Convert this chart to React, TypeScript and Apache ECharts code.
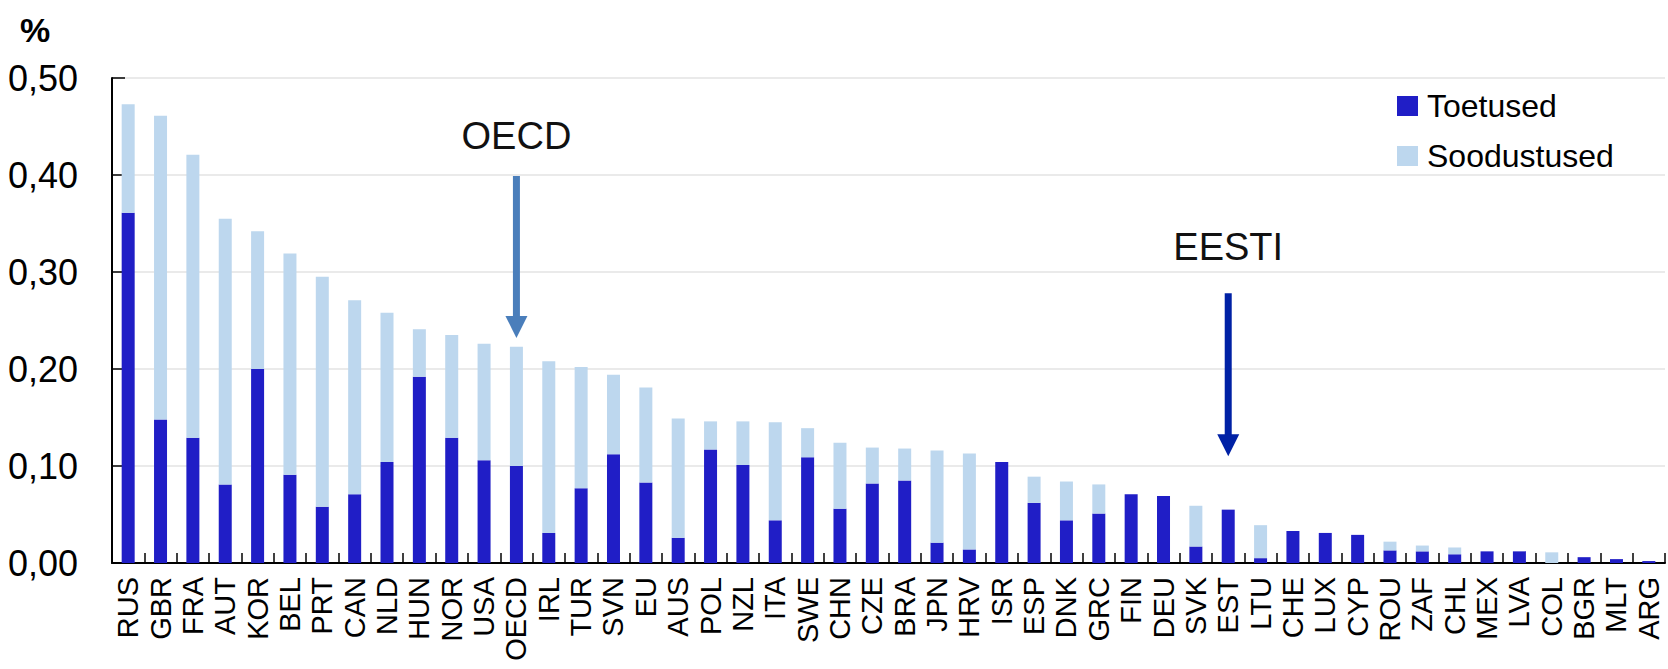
import React, { useEffect, useRef } from "react";
import * as echarts from "echarts";

const categories = [
  "RUS", "GBR", "FRA", "AUT", "KOR", "BEL", "PRT", "CAN", "NLD", "HUN", "NOR", "USA",
  "OECD", "IRL", "TUR", "SVN", "EU", "AUS", "POL", "NZL", "ITA", "SWE", "CHN", "CZE",
  "BRA", "JPN", "HRV", "ISR", "ESP", "DNK", "GRC", "FIN", "DEU", "SVK", "EST", "LTU",
  "CHE", "LUX", "CYP", "ROU", "ZAF", "CHL", "MEX", "LVA", "COL", "BGR", "MLT", "ARG",
];

const toetused = [
  0.361, 0.148, 0.129, 0.081, 0.200, 0.091, 0.058, 0.071, 0.104, 0.192, 0.129, 0.106,
  0.100, 0.031, 0.077, 0.112, 0.083, 0.026, 0.117, 0.101, 0.044, 0.109, 0.056, 0.082,
  0.085, 0.021, 0.014, 0.104, 0.062, 0.044, 0.051, 0.071, 0.069, 0.017, 0.055, 0.005,
  0.033, 0.031, 0.029, 0.013, 0.012, 0.009, 0.012, 0.012, 0.000, 0.006, 0.004, 0.002,
];

const soodustused = [
  0.112, 0.313, 0.292, 0.274, 0.142, 0.228, 0.237, 0.200, 0.154, 0.049, 0.106, 0.120,
  0.123, 0.177, 0.125, 0.082, 0.098, 0.123, 0.029, 0.045, 0.101, 0.030, 0.068, 0.037,
  0.033, 0.095, 0.099, 0.000, 0.027, 0.040, 0.030, 0.000, 0.000, 0.042, 0.000, 0.034,
  0.000, 0.000, 0.000, 0.009, 0.006, 0.007, 0.000, 0.000, 0.011, 0.000, 0.000, 0.000,
];

const yTicks = [0, 0.1, 0.2, 0.3, 0.4, 0.5];

// annotations: category, label, label y value, arrow top, arrow tip (data units)
const annotations = [
  { cat: "OECD", label: "OECD", labelY: 0.44, top: 0.399, tip: 0.232, color: "#4A7EBB" },
  { cat: "EST", label: "EESTI", labelY: 0.326, top: 0.278, tip: 0.11, color: "#0021A5" },
];

const DARK = "#201EC6";
const LIGHT = "#BDD7EE";
const SANS = "'Liberation Sans', Arial, Helvetica, sans-serif";

export default function App() {
  const ref = useRef<HTMLDivElement>(null);

  useEffect(() => {
    if (!ref.current) return;
    const chart = echarts.init(ref.current, null, { renderer: "svg" });
    chart.setOption({
      animation: false,
      backgroundColor: "#ffffff",
      grid: { left: 112, right: 3, top: 78, bottom: 106, containLabel: false },
      legend: {
        orient: "vertical",
        left: 1397,
        top: 90,
        padding: 0,
        itemGap: 18,
        itemWidth: 21,
        itemHeight: 20,
        icon: "rect",
        textStyle: {
          fontFamily: SANS,
          fontSize: 32,
          lineHeight: 32,
          color: "#000",
          padding: [0, 0, 0, 4],
        },
        data: ["Toetused", "Soodustused"],
      },
      xAxis: {
        type: "category",
        data: categories,
        boundaryGap: true,
        axisLine: { show: true, lineStyle: { color: "#000", width: 2 } },
        axisTick: { show: true, inside: true, length: 10, lineStyle: { color: "#000", width: 1.5 } },
        axisLabel: {
          rotate: 90,
          interval: 0,
          margin: 14,
          fontFamily: SANS,
          fontSize: 29,
          color: "#000",
        },
      },
      yAxis: {
        type: "value",
        min: 0,
        max: 0.5,
        interval: 0.1,
        axisLine: { show: true, lineStyle: { color: "#000", width: 2 } },
        axisTick: { show: true, inside: true, length: 13, lineStyle: { color: "#000", width: 1.5 } },
        splitLine: { show: true, lineStyle: { color: "#E3E3E3", width: 1.5 } },
        axisLabel: {
          margin: 34,
          fontFamily: SANS,
          fontSize: 36,
          color: "#000",
          formatter: (v: number) => {
            const t = yTicks.find((x) => Math.abs(x - v) < 1e-9);
            return (t !== undefined ? t : v).toFixed(2).replace(".", ",");
          },
        },
      },
      series: [
        {
          name: "Toetused",
          type: "bar",
          stack: "total",
          barWidth: 13,
          itemStyle: { color: DARK },
          data: toetused,
        },
        {
          name: "Soodustused",
          type: "bar",
          stack: "total",
          barWidth: 13,
          itemStyle: { color: LIGHT },
          data: soodustused,
        },
      ],
    });

    const graphics: any[] = [
      {
        type: "text",
        left: 20,
        top: 13,
        style: {
          text: "%",
          fontFamily: SANS,
          fontWeight: "bold",
          fontSize: 34,
          fill: "#000",
        },
      },
    ];
    annotations.forEach((a) => {
      const pLabel = chart.convertToPixel({ xAxisIndex: 0, yAxisIndex: 0 }, [a.cat, a.labelY]) as number[];
      const pTop = chart.convertToPixel({ xAxisIndex: 0, yAxisIndex: 0 }, [a.cat, a.top]) as number[];
      const pTip = chart.convertToPixel({ xAxisIndex: 0, yAxisIndex: 0 }, [a.cat, a.tip]) as number[];
      const x = pTop[0];
      const headLen = 22;
      const headHalf = 11;
      graphics.push({
        type: "text",
        x: pLabel[0],
        y: pLabel[1],
        style: {
          text: a.label,
          fontFamily: SANS,
          fontSize: 38,
          fill: "#111",
          align: "center",
          verticalAlign: "middle",
        },
      });
      graphics.push({
        type: "rect",
        shape: { x: x - 3.5, y: pTop[1], width: 7, height: pTip[1] - headLen - pTop[1] + 1 },
        style: { fill: a.color },
      });
      graphics.push({
        type: "polygon",
        shape: {
          points: [
            [x - headHalf, pTip[1] - headLen],
            [x + headHalf, pTip[1] - headLen],
            [x, pTip[1]],
          ],
        },
        style: { fill: a.color },
      });
    });
    chart.setOption({ graphic: graphics });

    return () => chart.dispose();
  }, []);

  return (
    <div
      ref={ref}
      style={{ position: "absolute", left: 0, top: 0, width: 1668, height: 669, background: "#fff" }}
    />
  );
}
